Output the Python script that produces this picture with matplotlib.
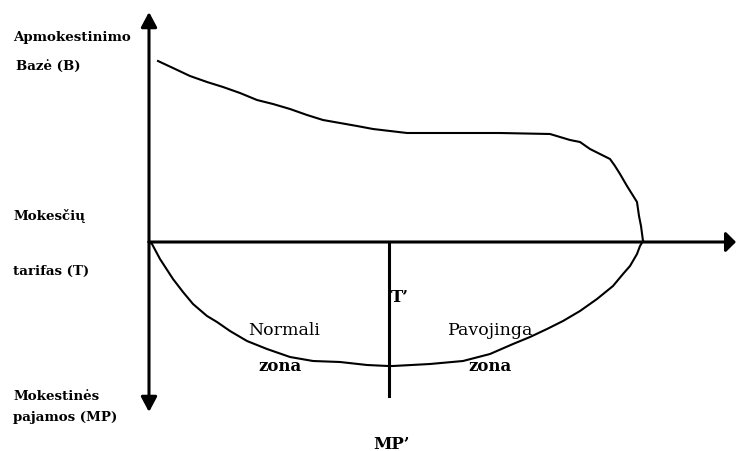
import numpy as np
import matplotlib
matplotlib.use('Agg')
import matplotlib.pyplot as plt

# chart coordinates: origin where the two axes cross, y up
base_x = [9, 24, 41, 58, 74, 91, 108, 124, 141, 158, 174, 191, 208, 224, 241, 258, 291,
          351, 401, 411, 421, 431, 441, 451, 461, 466, 471, 478, 483, 488, 490, 492, 494]
base_y = [181, 174, 166, 160, 155, 149, 142, 138, 133, 127, 122, 119, 116, 113, 111, 109, 109,
          109, 108, 105, 102, 100, 93, 88, 83, 76, 68, 56, 48, 40, 26, 16, 1]

rev_x = [0, 3, 11, 24, 34, 44, 58, 68, 81, 98, 118, 141, 164, 191, 218, 239,
         244, 281, 314, 341, 364, 381, 398, 414, 431, 448, 464, 474, 481, 488, 491, 494]
rev_y = [0, -2, -17, -37, -50, -62, -74, -80, -89, -99, -107, -115, -119, -120, -123, -124,
         -124, -122, -119, -112, -102, -95, -87, -79, -69, -57, -44, -32, -24, -12, -4, 1]

t_opt = 240          # T'
t_opt_low = -154     # bottom of T' line

left_labels = ['Apmokestinimo', 'Bazė (B)', 'Mokesčių', 'tarifas (T)',
               'Mokestinės', 'pajamos (MP)']
left_label_x = [-136, -133, -136, -136, -136, -136]
left_label_y = [205, 177, 27, -28, -154, -175]

fig = plt.figure(figsize=(7.36, 4.52), dpi=100)
ax = fig.add_axes([0, 0, 1, 1])
ax.set_xlim(-149, 587)
ax.set_ylim(-209, 243)
ax.axis('off')

# axes with arrows
arr = dict(arrowstyle='-|>,head_length=0.45,head_width=0.24', lw=2.2,
           color='black', mutation_scale=20, shrinkA=0, shrinkB=0)
ax.annotate('', xy=(0, 230), xytext=(0, 0), arrowprops=arr, annotation_clip=False)
ax.annotate('', xy=(0, -170), xytext=(0, 0), arrowprops=arr, annotation_clip=False)
arr_r = dict(arr)
arr_r['arrowstyle'] = '-|>,head_length=0.3,head_width=0.3'
ax.annotate('', xy=(587, 0), xytext=(0, 0), arrowprops=arr_r, annotation_clip=False)

# curves
ax.plot(base_x, base_y, color='black', lw=1.5, solid_joinstyle='round')
ax.plot(rev_x, rev_y, color='black', lw=1.5, solid_joinstyle='round')
ax.plot([t_opt, t_opt], [0, t_opt_low], color='black', lw=2.2)

font = 'DejaVu Serif'
for s, x, y in zip(left_labels, left_label_x, left_label_y):
    ax.text(x, y, s, ha='left', va='center', fontsize=9.6, family=font,
            fontweight='bold')

ax.text(242, -54, 'T’', ha='left', va='center', fontsize=12, family=font,
        fontweight='bold')
ax.text(99, -88, 'Normali', ha='left', va='center', fontsize=12.5, family=font)
ax.text(109, -124, 'zona', ha='left', va='center', fontsize=12, family=font,
        fontweight='bold')
ax.text(299, -88, 'Pavojinga', ha='left', va='center', fontsize=12.5, family=font)
ax.text(319, -124, 'zona', ha='left', va='center', fontsize=12, family=font,
        fontweight='bold')
ax.text(224, -202, 'MP’', ha='left', va='center', fontsize=12, family=font,
        fontweight='bold')

plt.savefig('out.png', dpi=100)
